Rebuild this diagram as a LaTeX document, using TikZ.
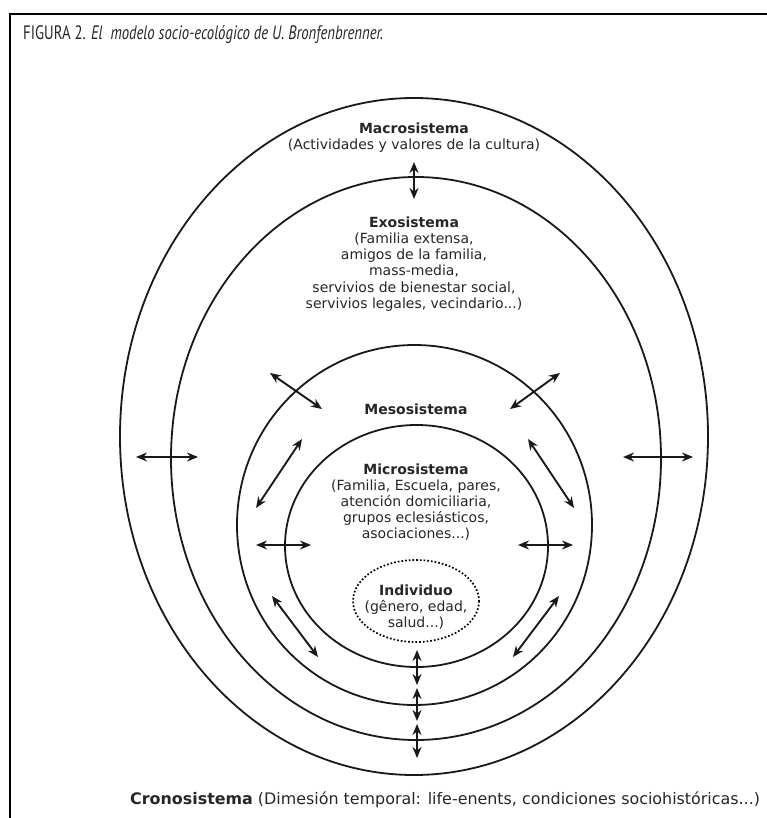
\documentclass[tikz,border=0pt]{standalone}
\usepackage{fontspec}
\setmainfont{DejaVu Sans}
\newfontfamily\titlefont{PT Sans}
\usetikzlibrary{arrows.meta}
\tikzset{
  ring/.style={draw=black!90, line width=1.8pt},
  dbl/.style={line width=1.9pt, draw=black!90, {Stealth[length=11pt,width=9pt]}-{Stealth[length=11pt,width=9pt]}},
  lbl/.style={align=center, text=black!85, font=\fontsize{14}{16.2}\selectfont, inner sep=0pt},
}
\begin{document}
\begin{tikzpicture}[x=1pt,y=-1pt]
\useasboundingbox (0,0) rectangle (767,818);
% frame
\draw[line width=2.5pt] (10,818) -- (10,14) -- (767,14);
\node[anchor=base west, inner sep=0pt, text=black!85] (title) at (23,40) {\resizebox{360pt}{14pt}{\titlefont\fontsize{18}{20}\selectfont FIGURA 2. \textit{El \ modelo socio-ecológico de U. Bronfenbrenner.}}};
% ellipses
\draw[ring] (414,436.5) ellipse [x radius=294, y radius=338.5];
\draw[ring] (416,458.5) ellipse [x radius=245, y radius=281.5];
\draw[ring] (414.5,525) ellipse [x radius=177.5, y radius=180];
\draw[ring] (416.5,546) ellipse [x radius=131.5, y radius=121];
\draw[line width=1.7pt, dotted] (416,601) ellipse [x radius=63, y radius=41];
% labels
\node[lbl] (macro) at (414,138) {\textbf{Macrosistema}\\(Actividades y valores de la cultura)};
\node[lbl] (exo) at (414,264) {\textbf{Exosistema}\\(Familia extensa,\\amigos de la familia,\\mass-media,\\servivios de bienestar social,\\servivios legales, vecindario...)};
\node[lbl] (meso) at (416,409) {\textbf{Mesosistema}};
\node[lbl] (micro) at (416,502) {\textbf{Microsistema}\\(Familia, Escuela, pares,\\atención domiciliaria,\\grupos eclesiásticos,\\asociaciones...)};
\node[lbl] (indiv) at (416,607) {\textbf{Individuo}\\(gênero, edad,\\salud...)};
\node[lbl, anchor=west, font=\fontsize{15.9}{17}\selectfont] (crono) at (130,800) {\textbf{Cronosistema} (Dimesión temporal: life-enents, condiciones sociohistóricas...)};
% arrow end points
\coordinate (a1) at (414,162); \coordinate (b1) at (414,199);
\coordinate (a2) at (136,457); \coordinate (b2) at (198,457);
\coordinate (a3) at (623,457); \coordinate (b3) at (693,457);
\coordinate (a4) at (270,373); \coordinate (b4) at (322,409);
\coordinate (a5) at (560,373); \coordinate (b5) at (510,409);
\coordinate (a6) at (302,439); \coordinate (b6) at (256,508);
\coordinate (a7) at (528,439); \coordinate (b7) at (574,508);
\coordinate (a8) at (256,545); \coordinate (b8) at (311,545);
\coordinate (a9) at (518,545); \coordinate (b9) at (573,545);
\coordinate (a10) at (272,596); \coordinate (b10) at (318,657);
\coordinate (a11) at (559,596); \coordinate (b11) at (513,657);
\coordinate (a12) at (417,650); \coordinate (b12) at (417,685);
\coordinate (a13) at (417,688); \coordinate (b13) at (417,721);
\coordinate (a14) at (417,724); \coordinate (b14) at (417,758);
\foreach \i in {1,...,14} {\draw[dbl] (a\i) -- (b\i);}
\end{tikzpicture}
\end{document}
